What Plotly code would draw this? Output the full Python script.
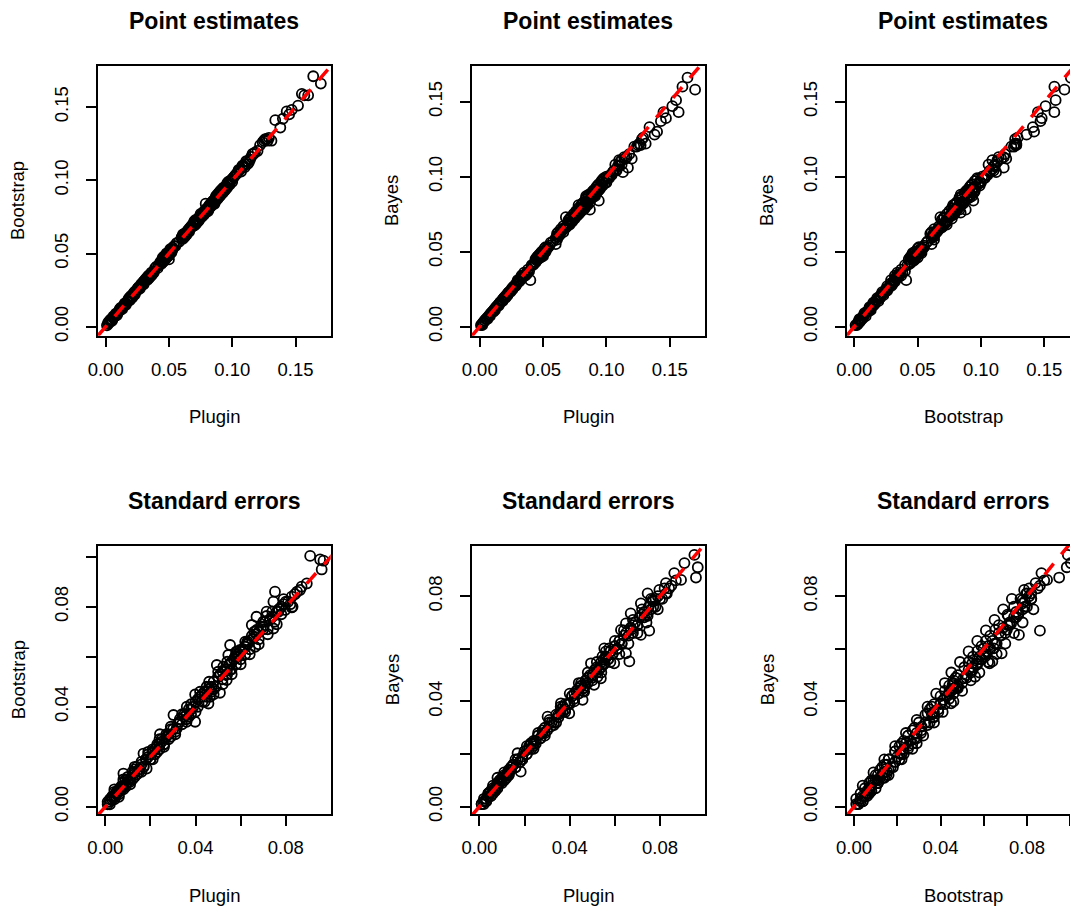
import plotly.graph_objects as go

# ---------------- data ----------------
pe_plugin = [
    0.001, 0.002, 0.002, 0.003, 0.004, 0.004, 0.005, 0.006, 0.007, 0.008,
    0.009, 0.010, 0.011, 0.012, 0.013, 0.014, 0.015, 0.016, 0.017, 0.018,
    0.019, 0.020, 0.021, 0.022, 0.023, 0.024, 0.025, 0.026, 0.028, 0.029,
    0.030, 0.031, 0.032, 0.033, 0.034, 0.035, 0.036, 0.037, 0.038, 0.040,
    0.042, 0.044, 0.045, 0.046, 0.047, 0.048, 0.049, 0.050, 0.051, 0.052,
    0.053, 0.055, 0.058, 0.060, 0.061, 0.062, 0.064, 0.066, 0.067, 0.068,
    0.069, 0.070, 0.071, 0.073, 0.075, 0.076, 0.077, 0.078, 0.079, 0.080,
    0.081, 0.082, 0.083, 0.084, 0.085, 0.086, 0.087, 0.088, 0.089, 0.090,
    0.091, 0.092, 0.093, 0.094, 0.095, 0.097, 0.099, 0.100, 0.102, 0.104,
    0.106, 0.108, 0.110, 0.112, 0.114, 0.117, 0.120, 0.122, 0.125, 0.127,
    0.129, 0.131, 0.134, 0.138, 0.140, 0.143, 0.145, 0.147, 0.152, 0.155,
    0.157, 0.160, 0.164, 0.170,
    0.003, 0.005, 0.006, 0.008, 0.009, 0.011, 0.012, 0.013, 0.015, 0.016,
    0.018, 0.019, 0.020, 0.021, 0.022, 0.023, 0.025, 0.026, 0.027, 0.028,
    0.029, 0.030, 0.031, 0.032, 0.033, 0.034, 0.035, 0.036, 0.038, 0.039,
    0.041, 0.043, 0.044, 0.045, 0.046, 0.047, 0.048, 0.049, 0.050, 0.051,
    0.052, 0.054, 0.056, 0.060, 0.061, 0.062, 0.063, 0.065, 0.066, 0.068,
    0.070, 0.071, 0.072, 0.074, 0.076, 0.077, 0.078, 0.079, 0.080, 0.081,
    0.082, 0.083, 0.084, 0.085, 0.086, 0.087, 0.088, 0.089, 0.090, 0.091,
    0.092, 0.093, 0.094, 0.096, 0.098, 0.101, 0.103, 0.105, 0.109, 0.111,
    0.113, 0.116, 0.118, 0.124, 0.126, 0.128,
    0.044, 0.045, 0.046, 0.047, 0.048, 0.049, 0.050, 0.051, 0.052, 0.053,
    0.061, 0.062, 0.063, 0.064, 0.066, 0.070, 0.071, 0.072, 0.073, 0.074,
    0.075, 0.076, 0.077, 0.078, 0.079, 0.080, 0.081, 0.082, 0.083, 0.084,
    0.085, 0.086, 0.087, 0.088, 0.089, 0.090, 0.091, 0.092, 0.093, 0.094,
    0.095, 0.096, 0.097, 0.098, 0.100, 0.107, 0.108, 0.110, 0.112, 0.115]
pe_boot = [
    0.001, 0.002, 0.003, 0.003, 0.004, 0.005, 0.005, 0.006, 0.007, 0.008,
    0.009, 0.010, 0.011, 0.012, 0.013, 0.014, 0.015, 0.016, 0.017, 0.018,
    0.020, 0.020, 0.021, 0.022, 0.024, 0.024, 0.025, 0.026, 0.028, 0.029,
    0.031, 0.031, 0.032, 0.034, 0.033, 0.035, 0.035, 0.036, 0.038, 0.041,
    0.042, 0.044, 0.046, 0.045, 0.047, 0.049, 0.048, 0.046, 0.052, 0.051,
    0.053, 0.055, 0.058, 0.061, 0.062, 0.062, 0.064, 0.066, 0.068, 0.068,
    0.070, 0.071, 0.072, 0.073, 0.075, 0.076, 0.077, 0.078, 0.084, 0.080,
    0.081, 0.083, 0.083, 0.085, 0.085, 0.087, 0.088, 0.089, 0.090, 0.091,
    0.092, 0.093, 0.093, 0.094, 0.096, 0.097, 0.100, 0.101, 0.103, 0.105,
    0.107, 0.109, 0.111, 0.113, 0.114, 0.118, 0.120, 0.124, 0.127, 0.128,
    0.129, 0.127, 0.141, 0.136, 0.142, 0.147, 0.145, 0.148, 0.151, 0.159,
    0.158, 0.158, 0.171, 0.166,
    0.004, 0.004, 0.007, 0.009, 0.008, 0.012, 0.013, 0.012, 0.016, 0.015,
    0.019, 0.018, 0.021, 0.020, 0.023, 0.022, 0.026, 0.027, 0.026, 0.029,
    0.030, 0.029, 0.032, 0.033, 0.032, 0.035, 0.034, 0.037, 0.037, 0.040,
    0.040, 0.044, 0.043, 0.047, 0.045, 0.048, 0.047, 0.050, 0.051, 0.050,
    0.053, 0.055, 0.057, 0.061, 0.060, 0.063, 0.064, 0.066, 0.067, 0.069,
    0.072, 0.070, 0.073, 0.075, 0.077, 0.078, 0.079, 0.080, 0.081, 0.080,
    0.083, 0.084, 0.085, 0.086, 0.085, 0.089, 0.090, 0.088, 0.092, 0.090,
    0.094, 0.092, 0.095, 0.098, 0.099, 0.102, 0.104, 0.107, 0.110, 0.113,
    0.112, 0.118, 0.119, 0.126, 0.128, 0.127,
    0.045, 0.044, 0.048, 0.046, 0.050, 0.048, 0.049, 0.053, 0.051, 0.054,
    0.063, 0.061, 0.062, 0.063, 0.065, 0.069, 0.073, 0.071, 0.072, 0.073,
    0.077, 0.075, 0.076, 0.077, 0.078, 0.079, 0.079, 0.081, 0.082, 0.083,
    0.084, 0.084, 0.086, 0.087, 0.091, 0.089, 0.093, 0.091, 0.095, 0.093,
    0.094, 0.095, 0.099, 0.097, 0.099, 0.106, 0.110, 0.109, 0.111, 0.116]
pe_bayes = [
    0.001, 0.001, 0.002, 0.003, 0.004, 0.004, 0.005, 0.005, 0.007, 0.008,
    0.009, 0.010, 0.010, 0.012, 0.013, 0.014, 0.014, 0.016, 0.017, 0.018,
    0.019, 0.019, 0.021, 0.022, 0.023, 0.023, 0.025, 0.025, 0.027, 0.029,
    0.030, 0.030, 0.031, 0.033, 0.033, 0.034, 0.035, 0.035, 0.036, 0.031,
    0.041, 0.043, 0.045, 0.047, 0.046, 0.048, 0.047, 0.049, 0.050, 0.051,
    0.052, 0.054, 0.057, 0.055, 0.060, 0.061, 0.063, 0.065, 0.066, 0.073,
    0.067, 0.068, 0.070, 0.071, 0.073, 0.074, 0.076, 0.081, 0.076, 0.077,
    0.079, 0.078, 0.082, 0.087, 0.083, 0.084, 0.078, 0.086, 0.087, 0.090,
    0.088, 0.091, 0.092, 0.084, 0.093, 0.098, 0.096, 0.100, 0.099, 0.101,
    0.104, 0.105, 0.107, 0.111, 0.113, 0.106, 0.112, 0.120, 0.121, 0.121,
    0.126, 0.122, 0.133, 0.128, 0.130, 0.137, 0.143, 0.139, 0.147, 0.151,
    0.143, 0.160, 0.166, 0.158,
    0.003, 0.005, 0.006, 0.007, 0.009, 0.011, 0.011, 0.013, 0.015, 0.016,
    0.017, 0.019, 0.020, 0.020, 0.021, 0.023, 0.024, 0.026, 0.027, 0.027,
    0.028, 0.031, 0.030, 0.032, 0.034, 0.033, 0.036, 0.034, 0.038, 0.037,
    0.041, 0.042, 0.045, 0.044, 0.047, 0.046, 0.049, 0.048, 0.050, 0.052,
    0.050, 0.053, 0.056, 0.059, 0.062, 0.060, 0.062, 0.064, 0.067, 0.066,
    0.069, 0.072, 0.070, 0.073, 0.074, 0.077, 0.075, 0.078, 0.079, 0.082,
    0.080, 0.081, 0.085, 0.082, 0.087, 0.085, 0.087, 0.090, 0.088, 0.091,
    0.089, 0.094, 0.091, 0.095, 0.097, 0.099, 0.101, 0.103, 0.107, 0.110,
    0.103, 0.113, 0.115, 0.120, 0.122, 0.125,
    0.043, 0.046, 0.045, 0.048, 0.046, 0.050, 0.047, 0.049, 0.053, 0.052,
    0.058, 0.063, 0.061, 0.065, 0.063, 0.071, 0.068, 0.073, 0.070, 0.075,
    0.072, 0.077, 0.074, 0.079, 0.076, 0.081, 0.078, 0.083, 0.079, 0.086,
    0.081, 0.088, 0.083, 0.089, 0.086, 0.091, 0.087, 0.093, 0.090, 0.095,
    0.092, 0.097, 0.094, 0.099, 0.096, 0.108, 0.104, 0.111, 0.108, 0.112]

se_plugin = [
    0.001, 0.002, 0.002, 0.003, 0.003, 0.004, 0.004, 0.005, 0.005, 0.006,
    0.006, 0.007, 0.007, 0.008, 0.009, 0.009, 0.010, 0.010, 0.011, 0.012,
    0.013, 0.014, 0.014, 0.015, 0.016, 0.017, 0.018, 0.019, 0.020, 0.021,
    0.022, 0.023, 0.024, 0.025, 0.026, 0.027, 0.028, 0.029, 0.030, 0.032,
    0.033, 0.035, 0.036, 0.037, 0.038, 0.039, 0.041, 0.042, 0.043, 0.044,
    0.045, 0.046, 0.047, 0.048, 0.050, 0.051, 0.052, 0.054, 0.055, 0.056,
    0.057, 0.058, 0.059, 0.060, 0.061, 0.062, 0.063, 0.065, 0.067, 0.068,
    0.069, 0.070, 0.071, 0.073, 0.074, 0.076, 0.077, 0.078, 0.079, 0.081,
    0.084, 0.087,
    0.0908, 0.0952, 0.0967, 0.0959, 0.0893, 0.0863, 0.0826, 0.0826, 0.0797, 0.0752,
    0.0745, 0.0767, 0.0715, 0.0715, 0.0670, 0.0649, 0.0745, 0.0671, 0.0649, 0.0627,
    0.0553, 0.0597, 0.0664, 0.0575, 0.0545, 0.0494, 0.0523, 0.0553, 0.0538, 0.0508,
    0.0449, 0.0464, 0.0457, 0.0398, 0.0361, 0.0398, 0.0302, 0.0316, 0.0242, 0.0228,
    0.0169, 0.0183, 0.0124, 0.0080,
    0.001, 0.002, 0.003, 0.004, 0.005, 0.006, 0.007, 0.008, 0.008, 0.009,
    0.010, 0.011, 0.012, 0.013, 0.013, 0.015, 0.016, 0.017, 0.018, 0.019,
    0.020, 0.021, 0.022, 0.023, 0.024, 0.025, 0.026, 0.027, 0.028, 0.029,
    0.031, 0.033, 0.034, 0.035, 0.036, 0.037, 0.038, 0.040, 0.041, 0.042,
    0.043, 0.044, 0.045, 0.046, 0.047, 0.048, 0.049, 0.050, 0.052, 0.053,
    0.054, 0.055, 0.056, 0.057, 0.058, 0.059, 0.060, 0.061, 0.062, 0.063,
    0.064, 0.066, 0.068, 0.070, 0.072, 0.073, 0.075, 0.077, 0.078, 0.080,
    0.082, 0.085,
    0.004, 0.006, 0.008, 0.011, 0.013, 0.016, 0.019, 0.021, 0.024, 0.026,
    0.029, 0.031, 0.034, 0.036, 0.038, 0.040, 0.042, 0.044, 0.046, 0.048,
    0.050, 0.052, 0.054, 0.056, 0.058, 0.060, 0.062, 0.064, 0.066, 0.068,
    0.070, 0.072, 0.074, 0.076, 0.079, 0.083]
se_boot = [
    0.001, 0.002, 0.003, 0.003, 0.004, 0.004, 0.006, 0.005, 0.006, 0.006,
    0.007, 0.007, 0.008, 0.008, 0.009, 0.011, 0.010, 0.012, 0.011, 0.011,
    0.014, 0.013, 0.016, 0.015, 0.017, 0.016, 0.019, 0.020, 0.019, 0.022,
    0.023, 0.022, 0.025, 0.026, 0.025, 0.028, 0.029, 0.028, 0.031, 0.033,
    0.034, 0.036, 0.037, 0.036, 0.039, 0.040, 0.043, 0.044, 0.045, 0.046,
    0.046, 0.047, 0.048, 0.047, 0.052, 0.053, 0.054, 0.055, 0.057, 0.058,
    0.059, 0.061, 0.060, 0.062, 0.063, 0.064, 0.066, 0.067, 0.069, 0.070,
    0.072, 0.071, 0.074, 0.075, 0.076, 0.078, 0.079, 0.080, 0.081, 0.082,
    0.085, 0.088,
    0.1003, 0.0989, 0.0984, 0.0949, 0.0893, 0.0867, 0.0840, 0.0797, 0.0787, 0.0860,
    0.0820, 0.0780, 0.0780, 0.0763, 0.0760, 0.0727, 0.0713, 0.0707, 0.0683, 0.0653,
    0.0647, 0.0627, 0.0640, 0.0600, 0.0607, 0.0567, 0.0560, 0.0547, 0.0507, 0.0456,
    0.0480, 0.0440, 0.0413, 0.0449, 0.0400, 0.0340, 0.0367, 0.0313, 0.0290, 0.0240,
    0.0213, 0.0153, 0.0133, 0.0133,
    0.002, 0.001, 0.004, 0.003, 0.006, 0.005, 0.008, 0.007, 0.010, 0.008,
    0.011, 0.010, 0.014, 0.012, 0.015, 0.014, 0.018, 0.016, 0.019, 0.021,
    0.019, 0.023, 0.021, 0.025, 0.023, 0.027, 0.025, 0.029, 0.027, 0.031,
    0.030, 0.035, 0.033, 0.037, 0.035, 0.039, 0.037, 0.042, 0.040, 0.044,
    0.042, 0.046, 0.044, 0.048, 0.046, 0.050, 0.048, 0.052, 0.051, 0.055,
    0.053, 0.057, 0.055, 0.059, 0.057, 0.061, 0.059, 0.063, 0.061, 0.065,
    0.063, 0.068, 0.067, 0.072, 0.071, 0.075, 0.074, 0.079, 0.077, 0.082,
    0.081, 0.086,
    0.007, 0.004, 0.011, 0.009, 0.016, 0.014, 0.022, 0.019, 0.027, 0.024,
    0.032, 0.029, 0.037, 0.034, 0.041, 0.038, 0.046, 0.042, 0.050, 0.045,
    0.054, 0.049, 0.058, 0.053, 0.062, 0.057, 0.066, 0.061, 0.070, 0.065,
    0.074, 0.069, 0.078, 0.073, 0.083, 0.080]
se_bayes = [
    0.001, 0.001, 0.002, 0.003, 0.002, 0.004, 0.005, 0.004, 0.006, 0.005,
    0.006, 0.007, 0.006, 0.008, 0.010, 0.009, 0.010, 0.011, 0.010, 0.012,
    0.013, 0.015, 0.014, 0.016, 0.015, 0.018, 0.017, 0.019, 0.021, 0.020,
    0.022, 0.024, 0.023, 0.025, 0.027, 0.026, 0.028, 0.030, 0.029, 0.032,
    0.031, 0.035, 0.036, 0.038, 0.037, 0.039, 0.042, 0.043, 0.044, 0.045,
    0.047, 0.045, 0.046, 0.049, 0.050, 0.052, 0.051, 0.053, 0.056, 0.057,
    0.056, 0.059, 0.058, 0.061, 0.060, 0.063, 0.062, 0.066, 0.068, 0.066,
    0.070, 0.069, 0.072, 0.074, 0.073, 0.075, 0.078, 0.076, 0.080, 0.079,
    0.083, 0.086,
    0.0926, 0.0957, 0.0910, 0.0871, 0.0862, 0.0888, 0.0850, 0.0811, 0.0824, 0.0669,
    0.0811, 0.0786, 0.0773, 0.0653, 0.0735, 0.0697, 0.0725, 0.0672, 0.0583, 0.0672,
    0.0602, 0.0545, 0.0552, 0.0602, 0.0571, 0.0545, 0.0494, 0.0545, 0.0488, 0.0463,
    0.0456, 0.0437, 0.0406, 0.0393, 0.0393, 0.0355, 0.0342, 0.0304, 0.0241, 0.0241,
    0.0203, 0.0133, 0.0128, 0.0110,
    0.001, 0.003, 0.002, 0.005, 0.004, 0.007, 0.006, 0.009, 0.007, 0.010,
    0.009, 0.012, 0.011, 0.014, 0.012, 0.016, 0.015, 0.018, 0.017, 0.018,
    0.021, 0.020, 0.023, 0.022, 0.025, 0.024, 0.027, 0.026, 0.029, 0.028,
    0.032, 0.032, 0.035, 0.034, 0.037, 0.036, 0.039, 0.039, 0.042, 0.041,
    0.044, 0.043, 0.046, 0.045, 0.048, 0.047, 0.050, 0.049, 0.053, 0.052,
    0.055, 0.054, 0.057, 0.056, 0.059, 0.058, 0.061, 0.060, 0.063, 0.062,
    0.065, 0.065, 0.069, 0.069, 0.073, 0.072, 0.076, 0.076, 0.079, 0.079,
    0.083, 0.084,
    0.005, 0.008, 0.009, 0.013, 0.012, 0.018, 0.018, 0.023, 0.022, 0.028,
    0.027, 0.033, 0.032, 0.038, 0.036, 0.043, 0.040, 0.047, 0.044, 0.051,
    0.048, 0.055, 0.051, 0.059, 0.055, 0.063, 0.058, 0.067, 0.062, 0.071,
    0.066, 0.075, 0.070, 0.079, 0.075, 0.081]

titles = ["Point estimates", "Point estimates", "Point estimates",
          "Standard errors", "Standard errors", "Standard errors"]
xlabels = ["Plugin", "Plugin", "Bootstrap", "Plugin", "Plugin", "Bootstrap"]
ylabels = ["Bootstrap", "Bayes", "Bayes", "Bootstrap", "Bayes", "Bayes"]

ticks_pe = [0.0, 0.05, 0.10, 0.15]
ticktext_pe = ["0.00", "0.05", "0.10", "0.15"]
ticks_se5 = [0.0, 0.02, 0.04, 0.06, 0.08]
ticktext_se5 = ["0.00", "", "0.04", "", "0.08"]
ticks_se6 = [0.0, 0.02, 0.04, 0.06, 0.08, 0.10]
ticktext_se6 = ["0.00", "", "0.04", "", "0.08", ""]

# ---------------- layout geometry (page pixels) ----------------
W, H = 1078, 919
OFF = 8  # the page body adds an 8px margin; compensate so boxes land where intended
col_px = [(97.7, 330.7), (471.7, 705.0), (846.7, 1079.7)]
row_px = [(66.0, 335.7), (545.7, 814.3)]

panels = [
    (pe_plugin, pe_boot, [-0.0063, 0.1778], [-0.0061, 0.1780], (ticks_pe, ticktext_pe), (ticks_pe, ticktext_pe)),
    (pe_plugin, pe_bayes, [-0.0063, 0.1778], [-0.0060, 0.1738], (ticks_pe, ticktext_pe), (ticks_pe, ticktext_pe)),
    (pe_boot, pe_bayes, [-0.0060, 0.1780], [-0.0060, 0.1738], (ticks_pe, ticktext_pe), (ticks_pe, ticktext_pe)),
    (se_plugin, se_boot, [-0.0034, 0.0999], [-0.0030, 0.1044], (ticks_se5, ticktext_se5), (ticks_se6, ticktext_se6)),
    (se_plugin, se_bayes, [-0.0034, 0.0999], [-0.0029, 0.0992], (ticks_se5, ticktext_se5), (ticks_se5, ticktext_se5)),
    (se_boot, se_bayes, [-0.0034, 0.1044], [-0.0029, 0.0992], (ticks_se6, ticktext_se6), (ticks_se5, ticktext_se5)),
]

FONT = "Liberation Sans, Arial, Helvetica, sans-serif"
TICK_SIZE = 18.5
LAB_SIZE = 18.5
TITLE_SIZE = 23

fig = go.Figure()
layout = dict(
    width=W, height=H,
    margin=dict(l=0, r=0, t=0, b=0, autoexpand=False),
    paper_bgcolor="white", plot_bgcolor="white",
    showlegend=False,
    font=dict(family=FONT, color="black", size=TICK_SIZE),
)
annotations = []


def fx(p):
    return (p - OFF) / W


def fy(p):
    return 1 - (p - OFF) / H


for i, (xd, yd, xr, yr, xt, yt) in enumerate(panels):
    r, c = divmod(i, 3)
    x0, x1 = col_px[c]
    y0, y1 = row_px[r]
    n = i + 1
    xa = "xaxis" if n == 1 else f"xaxis{n}"
    ya = "yaxis" if n == 1 else f"yaxis{n}"
    xref = "x" if n == 1 else f"x{n}"
    yref = "y" if n == 1 else f"y{n}"

    common = dict(showgrid=False, zeroline=False, showline=True, mirror=True,
                  linecolor="black", linewidth=1.5, ticks="outside", ticklen=10,
                  tickwidth=1.5, tickcolor="black", automargin=False,
                  tickfont=dict(family=FONT, size=TICK_SIZE, color="black"))
    layout[xa] = dict(domain=[fx(x0), fx(x1)], range=xr, anchor=yref,
                      tickvals=xt[0], ticktext=xt[1], ticklabelstandoff=6, **common)
    layout[ya] = dict(domain=[fy(y1), fy(y0)], range=yr, anchor=xref,
                      tickvals=yt[0], ticktext=yt[1], tickangle=-90,
                      ticklabelstandoff=11, **common)

    fig.add_trace(go.Scatter(
        x=xd, y=yd, mode="markers", xaxis=xref, yaxis=yref,
        marker=dict(symbol="circle-open", size=10, color="black",
                    line=dict(width=1.8, color="black")),
        hoverinfo="skip"))
    lo = min(xr[0], yr[0])
    hi = max(xr[1], yr[1])
    fig.add_trace(go.Scatter(
        x=[lo, hi], y=[lo, hi], mode="lines", xaxis=xref, yaxis=yref,
        line=dict(color="#ff0000", width=3.5, dash="14px,12px"),
        hoverinfo="skip"))

    cx = (x0 + x1) / 2
    cy = (y0 + y1) / 2
    annotations.append(dict(text=f"<b>{titles[i]}</b>", xref="paper", yref="paper",
                            x=fx(cx), y=fy(y0 - 45), showarrow=False,
                            xanchor="center", yanchor="middle",
                            font=dict(family=FONT, size=TITLE_SIZE, color="black")))
    annotations.append(dict(text=xlabels[i], xref="paper", yref="paper",
                            x=fx(cx), y=fy(y1 + 81), showarrow=False,
                            xanchor="center", yanchor="middle",
                            font=dict(family=FONT, size=LAB_SIZE, color="black")))
    annotations.append(dict(text=ylabels[i], xref="paper", yref="paper",
                            x=fx(x0 - 79.5), y=fy(cy), showarrow=False,
                            xanchor="center", yanchor="middle", textangle=-90,
                            font=dict(family=FONT, size=LAB_SIZE, color="black")))

layout["annotations"] = annotations
fig.update_layout(**layout)
fig.write_html("out.html")
